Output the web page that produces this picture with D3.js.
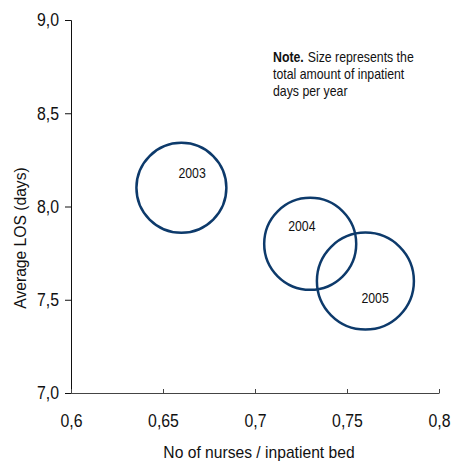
<!DOCTYPE html>
<html>
<head>
<meta charset="utf-8">
<script src="https://cdn.jsdelivr.net/npm/d3@7"></script>
<style>
  body { margin: 0; background: #fff; }
  svg { display: block; font-family: 'Liberation Sans', Arial, sans-serif; }
  .note { font-size: 15px; fill: #111; }
</style>
</head>
<body>
<svg id="chart" width="451" height="463"></svg>
<script>
// data
const years = ['2003', '2004', '2005']
const nursesPerBed = [0.66, 0.73, 0.76]
const avgLos = [8.1, 7.8, 7.6]
// inpatient days per year (relative, from bubble size)
const inpatientDays = [86000, 90000, 100000]

const xTicks = [0.6, 0.65, 0.7, 0.75, 0.8]
const yTicks = [7.0, 7.5, 8.0, 8.5, 9.0]

const margin = { top: 20, right: 12, bottom: 70, left: 71 }
const width = 451 - margin.left - margin.right,
  height = 463 - margin.top - margin.bottom

const svg = d3.select('#chart')
const g = svg.append('g')
    .attr('transform', `translate(${ margin.left },${ margin.top })`)

const x = d3.scaleLinear().domain([0.6, 0.8]).range([0, width])
const y = d3.scaleLinear().domain([7, 9]).range([height, 0])
const r = d3.scaleSqrt().domain([0, 100000]).range([0, 48.5])

const fmt = d => String(d).replace('.', ',')

// the original uses a narrow face, squeeze regular glyphs to match
function narrow(sel, k) {
  sel.each(function() {
    let len = this.getComputedTextLength()
    d3.select(this)
      .attr('textLength', len * k)
      .attr('lengthAdjust', 'spacingAndGlyphs')
  })
}

// y axis
const yAxis = g.append('g')
    .call(d3.axisLeft(y)
      .tickValues(yTicks)
      .tickSize(6)
      .tickPadding(6)
      .tickFormat(d => d3.format('.1f')(d).replace('.', ',')))
yAxis.selectAll('text').style('font-size', '18px').attr('fill', '#111')
yAxis.selectAll('line, path').attr('stroke', '#111')

// x axis, ticks point up into the plot
const xAxis = g.append('g')
    .attr('transform', `translate(0,${ height })`)
    .call(d3.axisBottom(x)
      .tickValues(xTicks)
      .tickSizeInner(-4)
      .tickSizeOuter(0)
      .tickPadding(21)
      .tickFormat(fmt))
xAxis.selectAll('text').style('font-size', '18px').attr('fill', '#111')
xAxis.selectAll('line, path').attr('stroke', '#444')

narrow(yAxis.selectAll('text'), 0.88)
narrow(xAxis.selectAll('text'), 0.88)

// axis titles
const xTitle = svg.append('text')
    .attr('x', margin.left + width / 2 + 4)
    .attr('y', 458)
    .attr('text-anchor', 'middle')
    .style('font-size', '17px')
    .attr('fill', '#111')
    .text('No of nurses / inpatient bed')
narrow(xTitle, 0.92)

const yTitle = svg.append('text')
    .attr('transform', `translate(26,238) rotate(-90)`)
    .attr('text-anchor', 'middle')
    .style('font-size', '17px')
    .attr('fill', '#111')
    .text('Average LOS (days)')
narrow(yTitle, 0.92)

// bubbles
const data = years.map((yr, i) => ({
  year: yr, x: nursesPerBed[i], y: avgLos[i], days: inpatientDays[i]
}))

// label offsets from bubble centre, as placed in the original
const labelOffset = { '2003': [10, -15], '2004': [-9, -18], '2005': [9, 17] }

g.selectAll('circle.bubble')
  .data(data)
  .enter().append('circle')
    .attr('class', 'bubble')
    .attr('cx', d => x(d.x))
    .attr('cy', d => y(d.y))
    .attr('r', d => r(d.days))
    .style('fill', 'none')
    .style('stroke', '#0d3a6b')
    .style('stroke-width', 2.5)

const yearLabels = g.selectAll('text.year')
  .data(data)
  .enter().append('text')
    .attr('class', 'year')
    .attr('x', d => x(d.x) + labelOffset[d.year][0] - 13)
    .attr('y', d => y(d.y) + labelOffset[d.year][1])
    .attr('dy', '0.35em')
    .style('font-size', '15px')
    .attr('fill', '#111')
    .text(d => d.year)
narrow(yearLabels, 0.82)

// note, one text per piece so nothing overlaps
let noteX = 273, noteY = 62, lineH = 17

const noteBold = svg.append('text')
    .attr('class', 'note')
    .attr('x', noteX)
    .attr('y', noteY)
    .style('font-weight', 'bold')
    .text('Note.')
let boldW = noteBold.node().getComputedTextLength() * 0.82
narrow(noteBold, 0.82)

const noteRest = svg.append('text')
    .attr('class', 'note')
    .attr('x', noteX + boldW + 4)
    .attr('y', noteY)
    .text('Size represents the')
narrow(noteRest, 0.82)

const noteMore = svg.selectAll('text.note-line')
  .data(['total amount of inpatient', 'days per year'])
  .enter().append('text')
    .attr('class', 'note note-line')
    .attr('x', noteX)
    .attr('y', (d, i) => noteY + lineH * (i + 1))
    .text(d => d)
narrow(noteMore, 0.82)
</script>
</body>
</html>
